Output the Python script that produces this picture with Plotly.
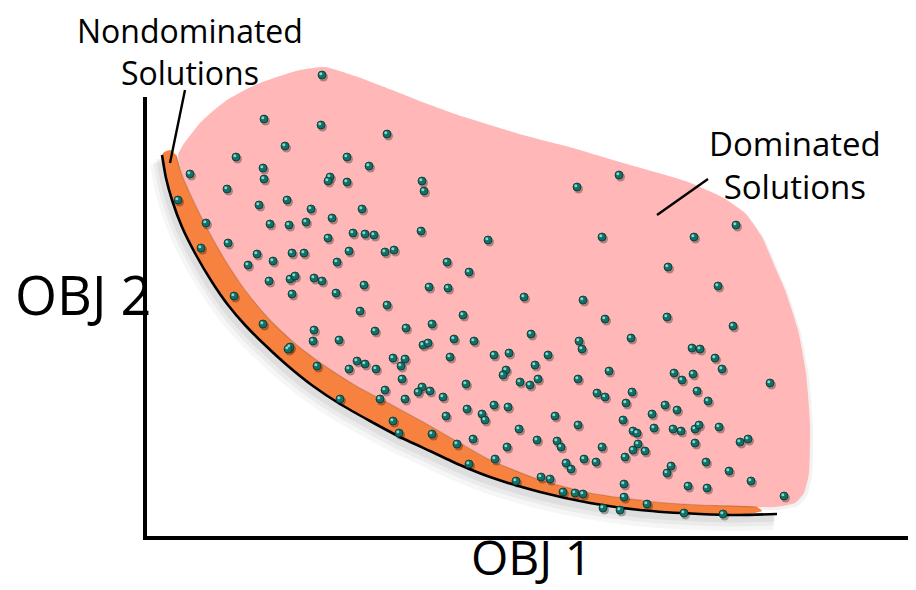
import plotly.graph_objects as go
import numpy as np

# ---- Diagram data (in OBJ1/OBJ2 drawing units) ----
# Dominated region outline
dom_x = [178, 183, 192, 200, 213, 227, 243, 260, 280, 300, 325, 358, 392, 425, 458, 490, 523, 573,
         623, 655, 688, 722, 745, 762, 775, 785, 798, 806, 810, 809, 804, 795, 775, 757,
         700, 655, 590, 540, 490, 458, 425, 392, 358, 325, 298, 270, 245, 225, 208, 193, 182, 178]
dom_y = [155, 145, 133, 123, 111, 100, 91, 83, 76, 70, 67, 77, 90, 103, 115, 125, 135, 148,
         163, 172, 182, 197, 213, 237, 267, 290, 330, 373, 423, 473, 493, 503, 507, 507,
         505, 502, 493, 480, 460, 442, 423, 405, 387, 366, 346, 320, 290, 260, 230, 200, 175, 155]

# Nondominated band: upper edge and Pareto front (lower edge)
band_top_x = [164, 170, 176, 182, 193, 208, 225, 245, 270, 298, 325, 358, 392, 425, 458, 490, 540, 590, 655, 700, 757, 762]
band_top_y = [152, 150, 155, 175, 200, 230, 260, 290, 320, 346, 366, 387, 405, 423, 442, 460, 480, 493, 502, 505, 507, 511]
front_x = [162, 166, 172, 182, 196, 212, 228, 245, 265, 288, 313, 340, 370, 400, 430, 460, 490, 540, 590, 640, 700, 740, 777]
front_y = [155, 178, 200, 227, 255, 282, 305, 325, 345, 366, 386, 404, 421, 437, 451, 465, 477, 492, 503, 510, 514, 515, 514]

# Solutions (points)
sol_x = [322, 264, 321, 285, 236, 190, 263, 264, 227, 178, 287, 259, 311, 270, 289, 306, 206, 228, 201, 257,
         292, 304, 248, 273, 269, 290, 295, 314, 322,
         387, 347, 369, 330, 328, 347, 422, 424, 362, 332, 328, 353, 365, 374, 421, 488, 349, 385, 394, 337,
         447, 469, 364, 429, 448,
         619, 577, 602, 736, 694, 668, 718,
         234, 292, 263, 314, 313, 290, 288, 317,
         336, 387, 360, 463, 432, 406, 375, 339, 454, 474, 423, 428, 450, 357, 365, 393, 405, 349, 376, 401,
         402, 466, 385, 422, 418, 430, 443, 380, 405, 340, 467, 446, 482, 485, 393, 399, 432, 473, 457, 469,
         524, 583, 605, 531, 579, 582, 631, 494, 509, 548, 535, 506, 503, 538, 520, 530, 578, 609, 597, 605,
         632, 626, 494, 508, 555, 578, 623, 652, 519, 633, 637, 654, 537, 557, 561, 602, 638, 633, 645, 507,
         495, 625, 566, 571, 584, 596, 541, 550, 516, 624, 563, 575, 583, 624, 603, 620, 647,
         667, 733, 692, 700, 715, 722, 674, 682, 693, 770, 697, 708, 665, 677, 673, 681, 695, 699, 719, 695,
         740, 748, 671, 667, 706, 729, 751, 688, 707, 784, 684, 723]
sol_y = [75, 119, 125, 146, 157, 174, 168, 179, 189, 200, 200, 205, 209, 224, 225, 222, 223, 243, 248, 254,
         253, 253, 265, 261, 281, 279, 276, 278, 281,
         134, 157, 166, 177, 181, 182, 181, 191, 209, 218, 238, 233, 234, 235, 231, 240, 251, 252, 250, 262,
         262, 272, 285, 287, 288,
         175, 187, 237, 225, 237, 267, 286,
         296, 294, 324, 330, 341, 347, 349, 366,
         293, 305, 311, 315, 324, 328, 331, 340, 339, 341, 345, 343, 357, 361, 364, 358, 359, 369, 369, 366,
         379, 384, 390, 387, 392, 391, 397, 399, 399, 399, 409, 416, 414, 420, 421, 433, 434, 439, 444, 464,
         297, 300, 319, 334, 341, 349, 338, 355, 353, 355, 365, 370, 375, 379, 382, 385, 379, 371, 393, 397,
         392, 403, 405, 407, 416, 425, 420, 414, 429, 431, 433, 428, 440, 441, 447, 447, 444, 450, 451, 447,
         459, 457, 463, 469, 459, 462, 477, 479, 481, 484, 492, 493, 494, 497, 508, 510, 504,
         317, 326, 348, 349, 358, 369, 373, 380, 374, 383, 391, 401, 405, 410, 429, 431, 429, 425, 427, 443,
         442, 439, 466, 473, 462, 471, 481, 486, 488, 496, 513, 514]

# Leader lines for the two labels
lead_nd_x = [185, 170]
lead_nd_y = [90, 163]
lead_d_x = [708, 657]
lead_d_y = [179, 215]

# Axis lines (OBJ 1 horizontal, OBJ 2 vertical)
axis_x = [145, 145, 916]
axis_y = [97, 538, 538]

PINK = "#FFB7B7"
ORANGE = "#F7823F"

fig = go.Figure()

# soft shadow under the dominated region
fig.add_trace(go.Scatter(x=np.array(dom_x) + 3, y=np.array(dom_y) + 3, mode="lines", fill="toself",
                         fillcolor="rgba(0,0,0,0.05)", line=dict(width=0, shape="spline", smoothing=0.5),
                         hoverinfo="skip"))

# shadow under the Pareto front
fx = np.array(front_x, dtype=float)
fy = np.array(front_y, dtype=float)
for dx, dy, w, a in [(-4, 8, 16, 0.035), (-3, 6, 11, 0.045), (-2, 4, 7, 0.055)]:
    fig.add_trace(go.Scatter(x=fx + dx, y=fy + dy, mode="lines",
                             line=dict(color=f"rgba(0,0,0,{a})", width=w, shape="spline", smoothing=0.6),
                             hoverinfo="skip"))

# dominated region
fig.add_trace(go.Scatter(x=dom_x, y=dom_y, mode="lines", fill="toself", fillcolor=PINK,
                         line=dict(width=0, color=PINK, shape="spline", smoothing=0.5), hoverinfo="skip"))

# nondominated band
bx = list(band_top_x) + list(front_x[::-1][1:])
by = list(band_top_y) + list(front_y[::-1][1:])
fig.add_trace(go.Scatter(x=bx, y=by, mode="lines", fill="toself", fillcolor=ORANGE,
                         line=dict(width=0, color=ORANGE, shape="spline", smoothing=0.5), hoverinfo="skip"))
# darker edge between band and region
fig.add_trace(go.Scatter(x=band_top_x[2:-1], y=band_top_y[2:-1], mode="lines",
                         line=dict(color="rgba(120,60,40,0.3)", width=1.2, shape="spline", smoothing=0.6),
                         hoverinfo="skip"))

# Pareto front line
fig.add_trace(go.Scatter(x=front_x, y=front_y, mode="lines",
                         line=dict(color="black", width=2.6, shape="spline", smoothing=0.6), hoverinfo="skip"))

# leader lines
for lx, ly in [(lead_nd_x, lead_nd_y), (lead_d_x, lead_d_y)]:
    fig.add_trace(go.Scatter(x=lx, y=ly, mode="lines", line=dict(color="black", width=2.4),
                             hoverinfo="skip"))

# axes
fig.add_trace(go.Scatter(x=axis_x, y=axis_y, mode="lines", line=dict(color="black", width=4),
                         hoverinfo="skip"))

# solution points: shadow, ball, highlight
sx = np.array(sol_x, dtype=float)
sy = np.array(sol_y, dtype=float)
fig.add_trace(go.Scatter(x=sx + 1.5, y=sy + 2, mode="markers",
                         marker=dict(size=9, color="rgba(0,0,0,0.3)", line=dict(width=0)),
                         hoverinfo="skip"))
fig.add_trace(go.Scatter(x=sx, y=sy, mode="markers",
                         marker=dict(size=8, color="#137068", line=dict(color="#07332F", width=0.8)),
                         hoverinfo="skip"))
fig.add_trace(go.Scatter(x=sx - 1.2, y=sy - 1.2, mode="markers",
                         marker=dict(size=3, color="rgba(150,235,225,0.85)", line=dict(width=0)),
                         hoverinfo="skip"))

FONT = "Open Sans"
ann = [
    dict(x=190, y=51, text="Nondominated<br>Solutions", size=32),
    dict(x=795, y=165, text="Dominated<br>Solutions", size=33),
    dict(x=83, y=294, text="OBJ 2", size=54),
    dict(x=531, y=556, text="OBJ 1", size=48),
]
for a in ann:
    fig.add_annotation(x=a["x"], y=a["y"], xref="x", yref="y", text=a["text"], showarrow=False,
                       font=dict(family=FONT, size=a["size"], color="black"),
                       xanchor="center", yanchor="middle", align="center")

# the page adds an 8 px body margin, so the figure covers page pixels 8..916 x 8..590
fig.update_layout(
    width=908, height=582, margin=dict(l=0, r=0, t=0, b=0),
    paper_bgcolor="white", plot_bgcolor="white", showlegend=False,
    xaxis=dict(range=[8, 916], visible=False, fixedrange=True),
    yaxis=dict(range=[590, 8], visible=False, fixedrange=True),
)

fig.write_html("out.html")
